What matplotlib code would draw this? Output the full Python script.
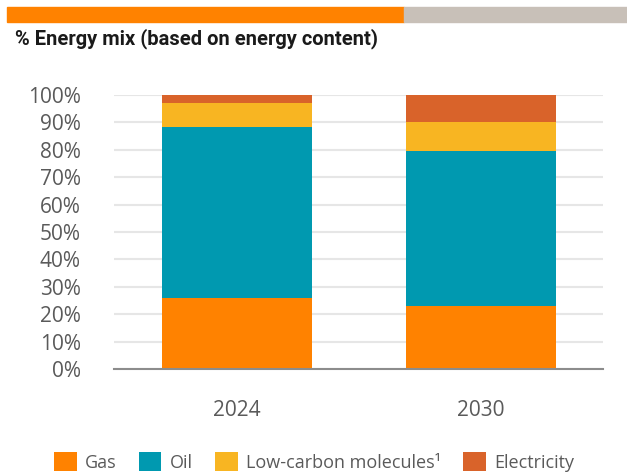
import numpy as np
from matplotlib import pyplot as plt
from matplotlib.patches import Rectangle

# Energy mix shares (% of energy content)
years = ["2024", "2030"]
sources = ["Gas", "Oil", "Low-carbon molecules\u00b9", "Electricity"]
gas = [26.0, 23.0]
oil = [62.5, 56.5]
low_carbon = [8.5, 10.5]
electricity = [3.0, 10.0]
colors = ["#FF8200", "#0099B0", "#F8B522", "#D9632A"]

yticks = np.arange(0, 101, 10)
ytick_labels = [f"{v}%" for v in yticks]

W, H = 627, 472
fig = plt.figure(figsize=(W / 100, H / 100), dpi=100)

# Header strip across the top
fig.patches.append(Rectangle((7 / W, 1 - 22 / H), (404 - 7) / W, 15 / H,
                             transform=fig.transFigure, color="#FF8200", zorder=0))
fig.patches.append(Rectangle((404 / W, 1 - 22 / H), (W - 404) / W, 15 / H,
                             transform=fig.transFigure, color="#C8C0B8", zorder=0))

fig.text(15 / W, 1 - 39 / H, "% Energy mix (based on energy content)",
         fontsize=14.5, fontweight="bold", family="Roboto", color="#1A1A1A",
         va="center", ha="left")

ax = fig.add_axes([114 / W, 1 - 369 / H, (603 - 114) / W, (369 - 95) / H])

x = np.arange(len(years))
width = 0.615
series = [gas, oil, low_carbon, electricity]
bottom = np.zeros(len(years))
bars = []
for vals, name, c in zip(series, sources, colors):
    b = ax.bar(x, vals, width, bottom=bottom, color=c, label=name, zorder=3)
    bars.append(b)
    bottom += np.array(vals)

ax.set_xlim(-0.504, 1.5)
ax.set_ylim(0, 100)
ax.set_yticks(yticks)
ax.set_yticklabels(ytick_labels)
ax.set_xticks(x)
ax.set_xticklabels(years)
ax.tick_params(axis="y", length=0, pad=24, labelsize=15, labelcolor="#5A5A5A")
ax.tick_params(axis="x", length=0, pad=22, labelsize=15, labelcolor="#5A5A5A")
for lab in ax.get_xticklabels() + ax.get_yticklabels():
    lab.set_family("Open Sans")

ax.grid(axis="y", color="#E6E6E6", linewidth=1.5, zorder=0)
for side in ["top", "right", "left"]:
    ax.spines[side].set_visible(False)
ax.spines["bottom"].set_color("#8C8C8C")
ax.spines["bottom"].set_linewidth(1.5)
ax.spines["bottom"].set_zorder(4)

fig.legend(handles=bars, labels=sources, loc="center left",
           bbox_to_anchor=(54 / W, 1 - 462 / H), ncol=4, frameon=False,
           prop={"family": "Open Sans", "size": 13}, labelcolor="#5A5A5A",
           handlelength=1.25, handleheight=1.25, handletextpad=0.45,
           columnspacing=1.25, borderpad=0, borderaxespad=0)

fig.savefig("out.png", dpi=100)
